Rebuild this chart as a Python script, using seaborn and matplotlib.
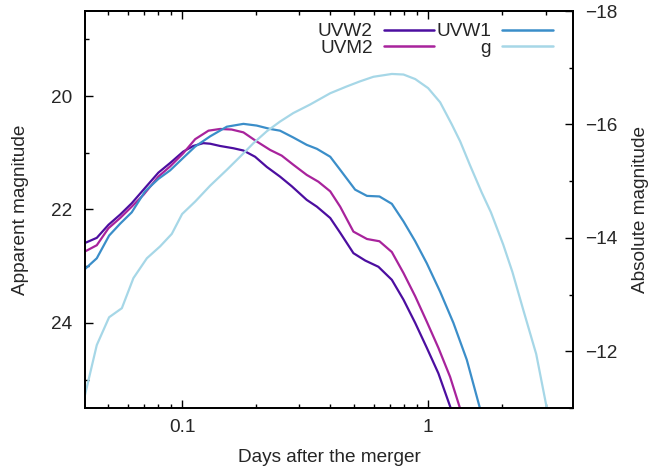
import numpy as np
import pandas as pd
import matplotlib
matplotlib.use("Agg")
import matplotlib.pyplot as plt
import seaborn as sns

# ---- data ----
uvw2_days = [0.0403, 0.045, 0.0502, 0.056, 0.0624, 0.0697, 0.0801, 0.0894, 0.101, 0.111, 0.122, 0.130,
             0.1427, 0.1616, 0.1775, 0.198, 0.221, 0.250, 0.279, 0.321, 0.353, 0.400, 0.439, 0.497,
             0.555, 0.628, 0.712, 0.794, 0.886, 0.988, 1.101, 1.228, 1.258]
uvw2_mag = [22.59, 22.50, 22.27, 22.09, 21.89, 21.65, 21.35, 21.18, 20.98, 20.88, 20.83, 20.84,
            20.88, 20.92, 20.96, 21.07, 21.25, 21.42, 21.59, 21.83, 21.95, 22.15, 22.41, 22.77,
            22.90, 23.01, 23.24, 23.59, 24.00, 24.44, 24.89, 25.47, 25.60]

uvm2_days = [0.0403, 0.045, 0.0502, 0.056, 0.0624, 0.0697, 0.0801, 0.0894, 0.101, 0.113, 0.128, 0.1427,
             0.159, 0.1775, 0.201, 0.228, 0.254, 0.283, 0.321, 0.358, 0.400, 0.439, 0.497, 0.564,
             0.634, 0.712, 0.794, 0.886, 0.988, 1.101, 1.228, 1.34, 1.37]
uvm2_mag = [22.74, 22.63, 22.33, 22.15, 21.95, 21.74, 21.42, 21.24, 21.01, 20.76, 20.61, 20.58,
            20.59, 20.64, 20.80, 20.95, 21.05, 21.21, 21.39, 21.51, 21.68, 21.95, 22.39, 22.52,
            22.56, 22.75, 23.12, 23.53, 23.98, 24.44, 24.95, 25.47, 25.60]

uvw1_days = [0.0403, 0.045, 0.0505, 0.056, 0.0624, 0.0707, 0.0801, 0.0894, 0.101, 0.113, 0.130, 0.152,
             0.1775, 0.201, 0.228, 0.250, 0.283, 0.321, 0.353, 0.400, 0.439, 0.505, 0.564, 0.634,
             0.712, 0.794, 0.886, 0.988, 1.119, 1.267, 1.436, 1.616, 1.646]
uvw1_mag = [23.05, 22.86, 22.46, 22.25, 22.05, 21.68, 21.46, 21.31, 21.09, 20.89, 20.71, 20.54,
            20.49, 20.52, 20.58, 20.61, 20.73, 20.86, 20.93, 21.07, 21.30, 21.65, 21.76, 21.77,
            21.90, 22.21, 22.56, 22.95, 23.45, 24.00, 24.65, 25.47, 25.60]

g_days = [0.0403, 0.045, 0.0505, 0.0569, 0.0634, 0.0719, 0.0814, 0.0908, 0.100, 0.113, 0.130, 0.152,
          0.172, 0.195, 0.221, 0.250, 0.283, 0.331, 0.400, 0.467, 0.529, 0.599, 0.712, 0.794,
          0.886, 1.0, 1.119, 1.248, 1.35, 1.48, 1.651, 1.80, 2.02, 2.20, 2.44, 2.75, 3.02, 3.07]
g_mag = [25.27, 24.39, 23.90, 23.74, 23.21, 22.86, 22.65, 22.43, 22.08, 21.86, 21.58, 21.30,
         21.07, 20.83, 20.62, 20.45, 20.30, 20.15, 19.95, 19.83, 19.74, 19.66, 19.61, 19.62,
         19.70, 19.86, 20.11, 20.50, 20.80, 21.22, 21.70, 22.05, 22.62, 23.10, 23.78, 24.55, 25.45, 25.60]

bands = ["UVW2", "UVM2", "UVW1", "g"]
colors = {"UVW2": "#4c0ea0", "UVM2": "#a8239c", "UVW1": "#3b8ec9", "g": "#a6d7e7"}

distance_modulus = 36.5
left_major = [20, 22, 24]
left_minor = [19, 21, 23, 25]
right_major = [-18, -16, -14, -12]
right_minor = [-17, -15, -13, -11]
x_major = [0.1, 1]
x_major_labels = ["0.1", "1"]

# ---- build table ----
frames = []
for b, d, m in [("UVW2", uvw2_days, uvw2_mag), ("UVM2", uvm2_days, uvm2_mag),
                ("UVW1", uvw1_days, uvw1_mag), ("g", g_days, g_mag)]:
    frames.append(pd.DataFrame({"days": d, "mag": m, "band": b}))
df = pd.concat(frames, ignore_index=True)

sns.set_style("white")
plt.rcParams["font.family"] = ["Liberation Sans", "DejaVu Sans"]
fs = 13.7

fig = plt.figure(figsize=(6.5, 4.66), dpi=100)
ax = fig.add_axes([85 / 650, 1 - 408 / 466, (573 - 85) / 650, (408 - 11) / 466])

sns.lineplot(data=df, x="days", y="mag", hue="band", hue_order=bands, palette=colors,
             sort=False, estimator=None, units="band", linewidth=1.6, legend=False, ax=ax)

ax.set_xscale("log")
ax.set_xlim(0.0403, 3.88)
ax.set_ylim(25.5, 18.5)

ax.set_xticks(x_major)
ax.set_xticklabels(x_major_labels)
ax.xaxis.set_minor_locator(matplotlib.ticker.LogLocator(base=10, subs=np.arange(2, 10)))
ax.xaxis.set_minor_formatter(matplotlib.ticker.NullFormatter())
ax.set_yticks(left_major)
ax.set_yticks(left_minor, minor=True)

ax.tick_params(axis="x", which="major", direction="in", top=True, bottom=True, length=6, width=1,
               labelsize=fs, pad=8, color="black")
ax.tick_params(axis="x", which="minor", direction="in", top=True, bottom=True, length=3, width=1,
               color="black")
ax.tick_params(axis="y", which="major", direction="in", left=True, right=False, length=6, width=1,
               labelsize=fs, pad=9, color="black")
ax.tick_params(axis="y", which="minor", direction="in", left=True, right=False, length=3, width=1,
               color="black")

for s in ax.spines.values():
    s.set_linewidth(1.3)
    s.set_color("black")

ax.set_xlabel("Days after the merger", fontsize=fs, labelpad=9)
ax.set_ylabel("Apparent magnitude", fontsize=fs, labelpad=16)

ax2 = ax.twinx()
lo, hi = ax.get_ylim()
ax2.set_ylim(lo - distance_modulus, hi - distance_modulus)
ax2.set_yticks(right_major)
ax2.set_yticks(right_minor, minor=True)
ax2.tick_params(axis="y", which="major", direction="in", right=True, left=False, length=6, width=1,
                labelsize=fs, pad=9, color="black")
ax2.tick_params(axis="y", which="minor", direction="in", right=True, left=False, length=3, width=1,
                color="black")
ax2.set_ylabel("Absolute magnitude", fontsize=fs, rotation=90, labelpad=10)
for s in ax2.spines.values():
    s.set_linewidth(1.3)
    s.set_color("black")

# legend in gnuplot style (text before sample, right aligned)
handles = [matplotlib.lines.Line2D([], [], color=colors[b], linewidth=1.8) for b in bands]
ax.legend(handles, bands, loc="upper right", bbox_to_anchor=(0.958, 0.97), ncol=2,
          frameon=False, markerfirst=False, fontsize=fs, handlelength=2.63,
          handletextpad=0.6, columnspacing=0.1, labelspacing=-0.05, borderpad=0.0,
          borderaxespad=0.0)

fig.savefig("out.png", dpi=100)
